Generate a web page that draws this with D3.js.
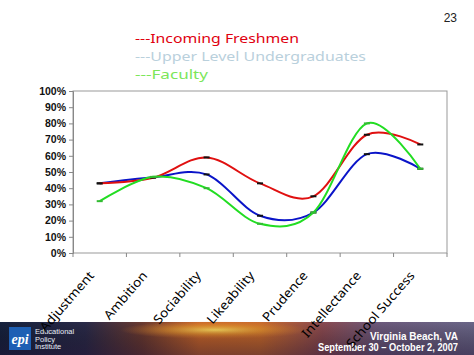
<!DOCTYPE html>
<html><head><meta charset="utf-8">
<script src="https://cdn.jsdelivr.net/npm/d3@7"></script>
<style>body{margin:0;background:#fff}svg{display:block}</style>
</head><body>
<svg id="c" width="474" height="355"></svg>
<script>
const categories = ["Adjustment","Ambition","Sociability","Likeability","Prudence","Intellectance","School Success"];
const freshmen = [43, 46.5, 59, 43, 35, 73, 67];
const upper    = [43, 46.8, 48.5, 23, 25, 61, 52];
const faculty  = [32, 47, 40, 18, 25, 80, 52];
const yTicks = [0,10,20,30,40,50,60,70,80,90,100];
const legendLabels = ["---Incoming Freshmen","---Upper Level Undergraduates","---Faculty"];

const svg = d3.select("#c");
const W = 474, H = 355;
const m = {l:73, r:447, t:91, b:253};

// banner
const defs = svg.append("defs");
const g1 = defs.append("linearGradient").attr("id","bh");
[[0,"#16223e"],[0.18,"#2a2a48"],[0.3,"#6a3a30"],[0.42,"#c8662a"],[0.55,"#c86a2c"],[0.68,"#8a4a50"],[0.8,"#6c5a7c"],[1,"#6a6688"]]
  .forEach(([o,c])=>g1.append("stop").attr("offset",o).attr("stop-color",c));
const g2 = defs.append("radialGradient").attr("id","glow").attr("cx","50%").attr("cy","50%").attr("r","50%");
g2.append("stop").attr("offset",0).attr("stop-color","#ffe060").attr("stop-opacity",0.95);
g2.append("stop").attr("offset",0.5).attr("stop-color","#f0a030").attr("stop-opacity",0.6);
g2.append("stop").attr("offset",1).attr("stop-color","#e08030").attr("stop-opacity",0);
const g3 = defs.append("linearGradient").attr("id","bv").attr("x1",0).attr("x2",0).attr("y1",0).attr("y2",1);
g3.append("stop").attr("offset",0).attr("stop-color","#000").attr("stop-opacity",0);
g3.append("stop").attr("offset",1).attr("stop-color","#201030").attr("stop-opacity",0.45);

svg.append("rect").attr("x",0).attr("y",322).attr("width",W).attr("height",33).attr("fill","url(#bh)");
svg.append("ellipse").attr("cx",215).attr("cy",330).attr("rx",95).attr("ry",9).attr("fill","url(#glow)");
svg.append("rect").attr("x",0).attr("y",322).attr("width",W).attr("height",33).attr("fill","url(#bv)");

// logo
svg.append("rect").attr("x",9).attr("y",327).attr("width",22).attr("height",23).attr("fill","#1d5fb4");
svg.append("text").attr("x",20).attr("y",344).attr("text-anchor","middle").attr("fill","#fff")
  .attr("font-family","Liberation Serif").attr("font-style","italic").attr("font-weight","bold").attr("font-size",14).text("epi");
["Educational","Policy","Institute"].forEach((t,i)=>svg.append("text").attr("x",35).attr("y",334+i*7.5)
  .attr("fill","#e8ecf4").attr("font-family","Liberation Sans").attr("font-size",7.5).text(t));
svg.append("text").attr("x",458).attr("y",340).attr("text-anchor","end").attr("fill","#fff")
  .attr("font-family","Liberation Sans").attr("font-weight","bold").attr("font-size",10).text("Virginia Beach, VA");
svg.append("text").attr("x",458).attr("y",351).attr("text-anchor","end").attr("fill","#fff")
  .attr("font-family","Liberation Sans").attr("font-weight","bold").attr("font-size",10)
  .attr("textLength",140).attr("lengthAdjust","spacingAndGlyphs").text("September 30 \u2013 October 2, 2007");

// page number
svg.append("text").attr("x",457).attr("y",22).attr("text-anchor","end").attr("font-family","Liberation Sans")
  .attr("font-size",12).attr("fill","#222").text("23");

// legend
const legColors = ["#e00010","#b9d0dc","#7ce65a"];
const legY = [43, 61, 79];
const legLen = [164, 231, 73];
legendLabels.forEach((t,i)=>svg.append("text").attr("x",135).attr("y",legY[i]).attr("fill",legColors[i])
  .attr("font-family","Noto Sans").attr("font-size",13).attr("textLength",legLen[i])
  .attr("lengthAdjust","spacingAndGlyphs").text(t));

// scales
const x = d3.scaleBand().domain(categories).range([m.l, m.r]);
const y = d3.scaleLinear().domain([0,100]).range([m.b, m.t]);

// plot frame
svg.append("rect").attr("x",m.l).attr("y",m.t).attr("width",m.r-m.l).attr("height",m.b-m.t)
  .attr("fill","none").attr("stroke","#999").attr("stroke-width",1);

// y axis
const ya = svg.append("g").attr("transform",`translate(${m.l},0)`)
  .call(d3.axisLeft(y).tickValues(yTicks).tickSize(4).tickPadding(3).tickFormat(d=>d+"%"));
ya.select(".domain").attr("stroke","#888");
ya.selectAll(".tick line").attr("stroke","#888");
ya.selectAll("text").attr("font-family","Liberation Sans").attr("font-weight","bold").attr("font-size",10.5).attr("fill","#111");

// x axis ticks at boundaries
const bounds = categories.map(c=>x(c)).concat([m.r]);
svg.append("g").selectAll("line").data(bounds).join("line")
  .attr("x1",d=>d).attr("x2",d=>d).attr("y1",m.b).attr("y2",m.b+4).attr("stroke","#888");

// x labels
const xl = svg.append("g").selectAll("text").data(categories).join("text")
  .attr("transform",d=>`translate(${x(d)+x.bandwidth()/2-5},${m.b+23}) rotate(-49)`)
  .attr("text-anchor","end").attr("font-family","Noto Sans").attr("font-size",12.5).attr("fill","#000")
  .text(d=>d);
xl.each(function(){ const L=this.getComputedTextLength(); d3.select(this).attr("textLength",L*1.1).attr("lengthAdjust","spacingAndGlyphs"); });

// lines
const series = [
  {vals: upper, color:"#0a14c8", mk:"#111"},
  {vals: freshmen, color:"#e01010", mk:"#111"},
  {vals: faculty, color:"#22dd22", mk:"#33bb33"}
];
const line = d3.line().x((d,i)=>x(categories[i])+x.bandwidth()/2).y(d=>y(d)).curve(d3.curveCatmullRom.alpha(0));
series.forEach(s=>{
  svg.append("path").attr("d",line(s.vals)).attr("fill","none").attr("stroke",s.color).attr("stroke-width",2);
  svg.append("g").selectAll("line").data(s.vals).join("line")
    .attr("x1",(d,i)=>x(categories[i])+x.bandwidth()/2-3).attr("x2",(d,i)=>x(categories[i])+x.bandwidth()/2+3)
    .attr("y1",d=>y(d)).attr("y2",d=>y(d)).attr("stroke",s.mk).attr("stroke-width",2);
});
</script>
</body></html>
